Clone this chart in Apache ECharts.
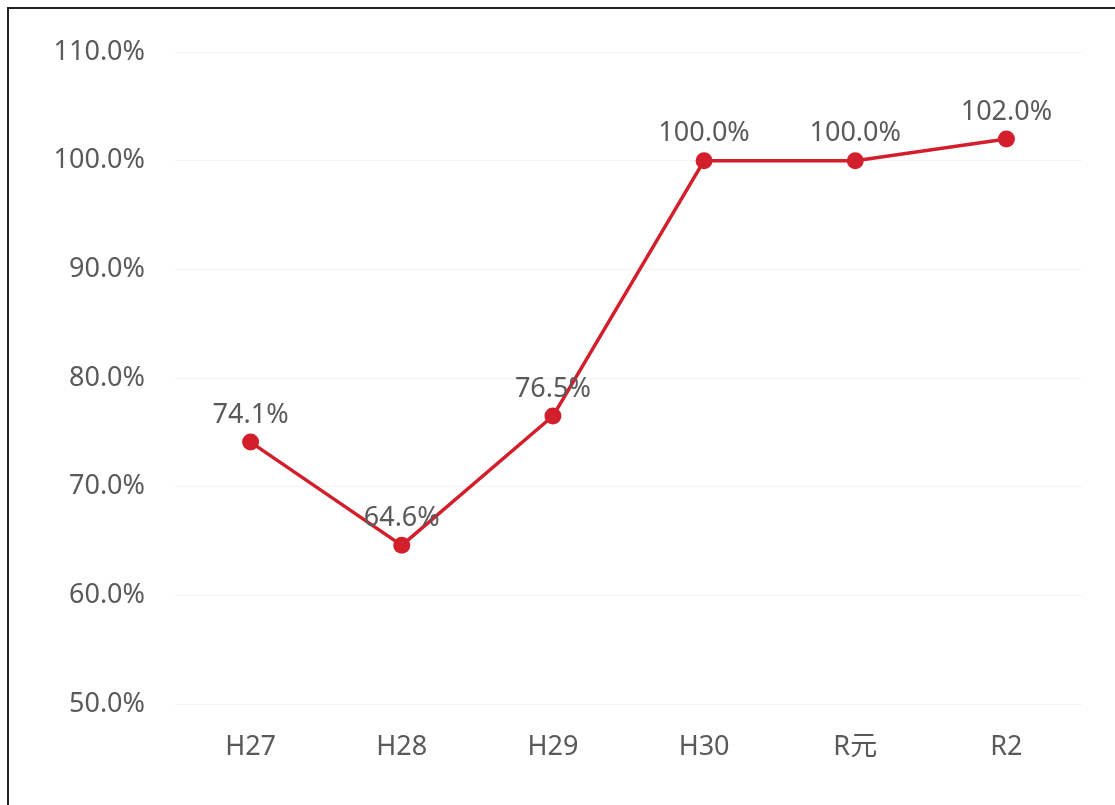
<!DOCTYPE html>
<html>
<head>
<meta charset="utf-8">
<script src="https://cdn.jsdelivr.net/npm/echarts@6/dist/echarts.min.js"></script>
<style>
html,body{margin:0;padding:0;background:#fff;}
#frame{position:absolute;left:7px;top:7px;right:0;bottom:0;border-left:2px solid #222;border-top:2px solid #222;}
#chart{position:absolute;left:0;top:0;width:1115px;height:805px;}
</style>
</head>
<body>
<div id="chart"></div>
<div id="frame"></div>
<script>
const categories = ['H27', 'H28', 'H29', 'H30', 'R元', 'R2'];
const values = [74.1, 64.6, 76.5, 100.0, 100.0, 102.0];
const yMin = 50, yMax = 110, yStep = 10;

const chart = echarts.init(document.getElementById('chart'));
const font = '"Noto Sans", "Noto Sans CJK JP", sans-serif';
chart.setOption({
  backgroundColor: '#ffffff',
  animation: false,
  grid: { left: 175, right: 33, top: 52, bottom: 101 },
  xAxis: {
    type: 'category',
    data: categories,
    boundaryGap: true,
    axisLine: { show: false },
    axisTick: { show: false },
    axisLabel: { color: '#5a5a5a', fontSize: 27, fontFamily: font, margin: 30 }
  },
  yAxis: {
    type: 'value',
    min: yMin, max: yMax, interval: yStep,
    axisLine: { show: false },
    axisTick: { show: false },
    splitLine: { lineStyle: { color: '#f3f3f3', width: 1 } },
    axisLabel: { color: '#5a5a5a', fontSize: 27, fontFamily: font, margin: 30,
      formatter: v => v.toFixed(1) + '%' }
  },
  series: [{
    type: 'line',
    data: values,
    symbol: 'circle',
    symbolSize: 17,
    lineStyle: { color: '#d21f2b', width: 3.5 },
    itemStyle: { color: '#d21f2b' },
    label: { show: true, position: 'top', distance: 5, color: '#5a5a5a', fontSize: 27, fontFamily: font,
      formatter: p => p.value.toFixed(1) + '%' }
  }]
});
</script>
</body>
</html>
